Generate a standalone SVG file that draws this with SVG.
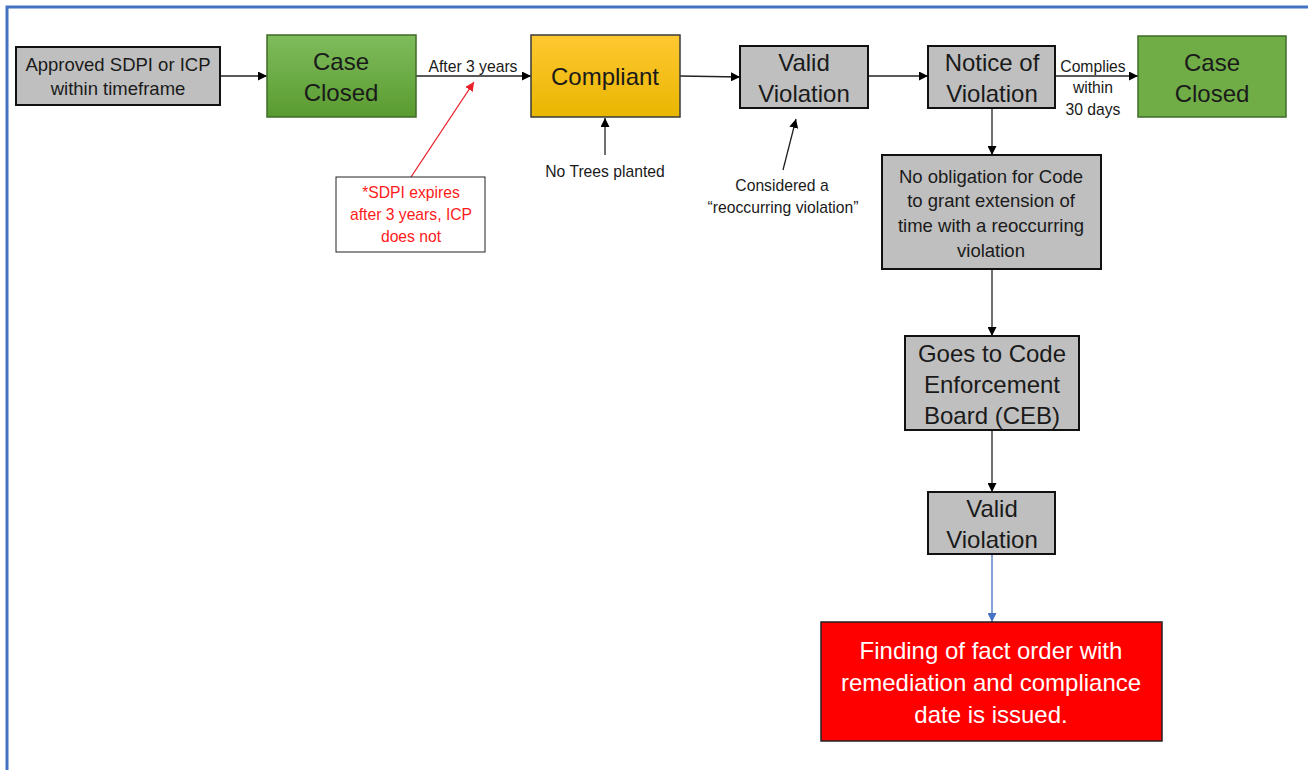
<svg xmlns="http://www.w3.org/2000/svg" width="1308" height="770" viewBox="0 0 1308 770">
<defs>
<linearGradient id="gGreen" x1="0" y1="0" x2="0" y2="1"><stop offset="0" stop-color="#7EBC5C"/><stop offset="1" stop-color="#5A9B30"/></linearGradient>
<linearGradient id="gYellow" x1="0" y1="0" x2="0" y2="1"><stop offset="0" stop-color="#FFC832"/><stop offset="1" stop-color="#E9B600"/></linearGradient>
<marker id="ab" viewBox="0 0 10 10" refX="10" refY="5" markerWidth="9" markerHeight="9" markerUnits="userSpaceOnUse" orient="auto"><path d="M0,0 L10,5 L0,10 z" fill="#000"/></marker>
<marker id="ar" viewBox="0 0 10 10" refX="10" refY="5" markerWidth="9" markerHeight="9" markerUnits="userSpaceOnUse" orient="auto"><path d="M0,0 L10,5 L0,10 z" fill="#E8202A"/></marker>
<marker id="abl" viewBox="0 0 10 10" refX="10" refY="5" markerWidth="9" markerHeight="9" markerUnits="userSpaceOnUse" orient="auto"><path d="M0,0 L10,5 L0,10 z" fill="#4472C4"/></marker>
</defs>
<style>
text{font-family:"Liberation Sans",Arial,sans-serif;fill:#1a1a1a;text-anchor:middle}
.gray{fill:#BFBFBF;stroke:#111;stroke-width:2}
.green{stroke:#3F6B27;stroke-width:1.5}
.big{font-size:24px}
.mid{font-size:18.5px}
.sm{font-size:15.7px}
.red{fill:#FF1A1A}
.white{fill:#fff}
.c{stroke:#222;stroke-width:1.3;fill:none;marker-end:url(#ab)}
</style>
<rect width="1308" height="770" fill="#fff"/>
<path d="M7,770 V7 H1308" fill="none" stroke="#4472C4" stroke-width="3"/>
<g id="connectors">
<line class="c" x1="220" y1="76" x2="267" y2="76"/>
<line class="c" x1="416" y1="76" x2="531" y2="76"/>
<line class="c" x1="680" y1="76" x2="740" y2="77"/>
<line class="c" x1="868" y1="76" x2="928" y2="76"/>
<line class="c" x1="1055" y1="76" x2="1138" y2="76"/>
<line class="c" x1="992" y1="108" x2="992" y2="155"/>
<line class="c" x1="992" y1="269" x2="992" y2="336"/>
<line class="c" x1="992" y1="430" x2="992" y2="492"/>
<line x1="992" y1="554" x2="992" y2="622" stroke="#4472C4" stroke-width="1.3" marker-end="url(#abl)"/>
<line x1="411" y1="177" x2="474" y2="82" stroke="#E8202A" stroke-width="1.3" marker-end="url(#ar)"/>
<line class="c" x1="605" y1="155" x2="605" y2="118"/>
<line class="c" x1="783" y1="170" x2="796" y2="119"/>
</g>
<g id="lbl-after"><text class="sm" x="473" y="72">After 3 years</text></g>
<g id="lbl-complies"><text class="sm" x="1093" y="72">Complies</text><text class="sm" x="1093" y="93">within</text><text class="sm" x="1093" y="115">30 days</text></g>
<g id="lbl-notrees"><text class="sm" x="605" y="177">No Trees planted</text></g>
<g id="lbl-considered"><text class="sm" x="782" y="191">Considered a</text><text class="sm" x="783" y="213">“reoccurring violation”</text></g>
<g id="approved"><rect class="gray" x="16" y="47" width="204" height="58"/><text class="mid" x="118" y="71">Approved SDPI or ICP</text><text class="mid" x="118" y="95">within timeframe</text></g>
<g id="closed1"><rect class="green" x="267" y="35" width="149" height="82" fill="url(#gGreen)"/><text class="big" x="341" y="70">Case</text><text class="big" x="341" y="101">Closed</text></g>
<g id="compliant"><rect x="531" y="35" width="149" height="82" fill="url(#gYellow)" stroke="#3a3a3a" stroke-width="1.5"/><text class="big" x="605" y="85">Compliant</text></g>
<g id="valid1"><rect class="gray" x="740" y="46" width="128" height="62"/><text class="big" x="804" y="71">Valid</text><text class="big" x="804" y="102">Violation</text></g>
<g id="notice"><rect class="gray" x="928" y="46" width="127" height="62"/><text class="big" x="992" y="71">Notice of</text><text class="big" x="992" y="102">Violation</text></g>
<g id="closed2"><rect class="green" x="1138" y="36" width="148" height="81" fill="#70AD47"/><text class="big" x="1212" y="71">Case</text><text class="big" x="1212" y="102">Closed</text></g>
<g id="sdpi"><rect x="336" y="177" width="149" height="75" fill="#fff" stroke="#222" stroke-width="1"/><text class="sm red" x="411" y="198">*SDPI expires</text><text class="sm red" x="411" y="220">after 3 years, ICP</text><text class="sm red" x="411" y="242">does not</text></g>
<g id="noobligation"><rect class="gray" x="882" y="155" width="219" height="114"/><text class="mid" x="991" y="183">No obligation for Code</text><text class="mid" x="991" y="207">to grant extension of</text><text class="mid" x="991" y="232">time with a reoccurring</text><text class="mid" x="991" y="257">violation</text></g>
<g id="ceb"><rect class="gray" x="905" y="336" width="174" height="94"/><text class="big" x="992" y="362">Goes to Code</text><text class="big" x="992" y="393">Enforcement</text><text class="big" x="992" y="424">Board (CEB)</text></g>
<g id="valid2"><rect class="gray" x="928" y="492" width="127" height="62"/><text class="big" x="992" y="517">Valid</text><text class="big" x="992" y="548">Violation</text></g>
<g id="finding"><rect x="821" y="622" width="341" height="119" fill="#FF0000" stroke="#222" stroke-width="1.5"/><text class="big white" x="991" y="659">Finding of fact order with</text><text class="big white" x="991" y="691">remediation and compliance</text><text class="big white" x="991" y="723">date is issued.</text></g>
</svg>
